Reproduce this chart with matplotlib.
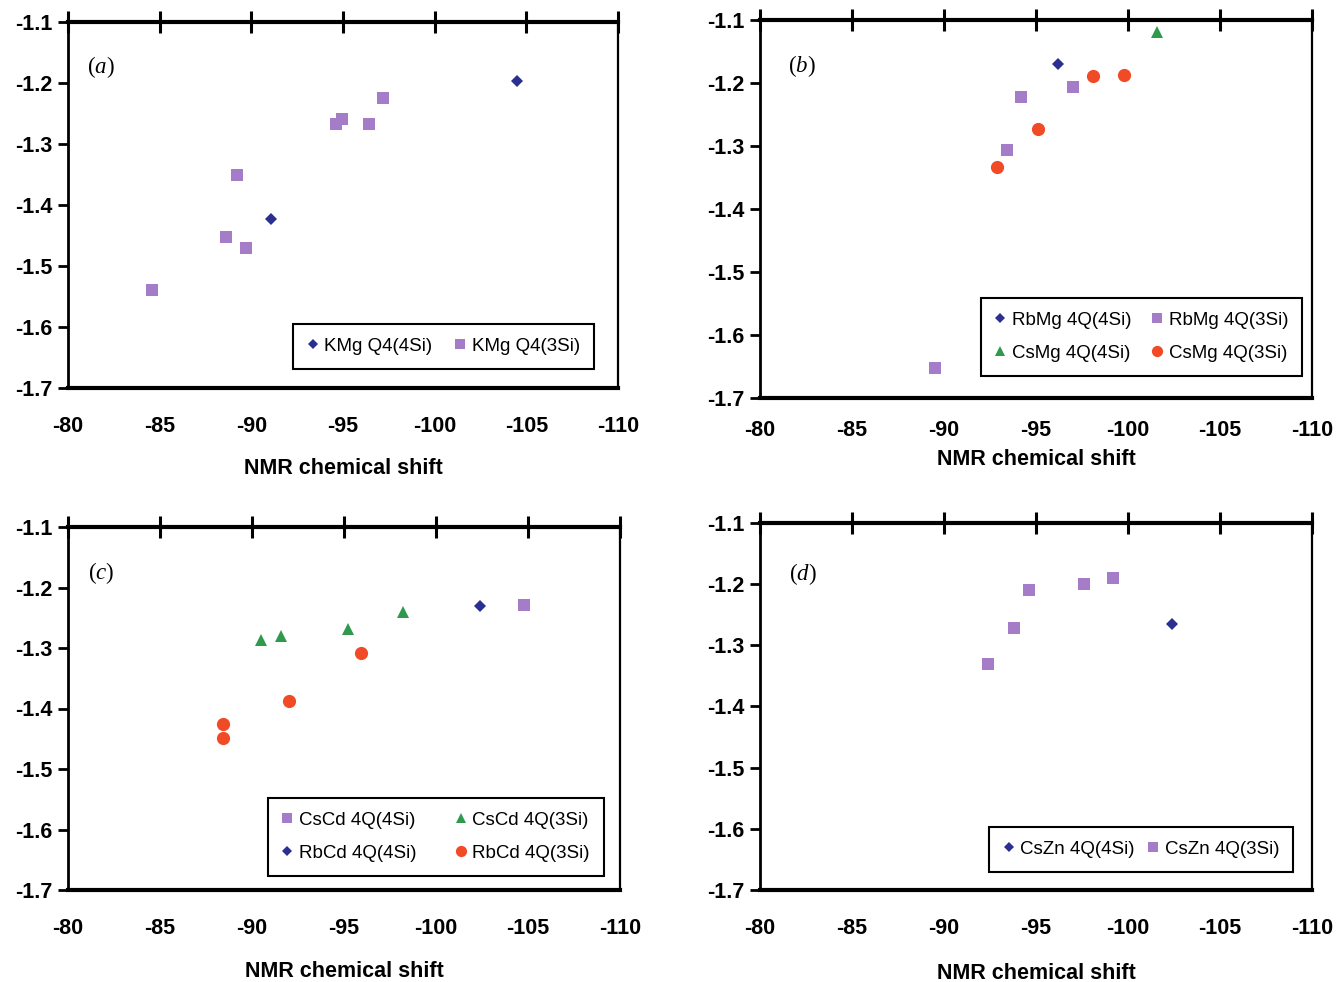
import matplotlib
matplotlib.use("Agg")
import matplotlib.pyplot as plt
from matplotlib.ticker import FormatStrFormatter

plt.rcParams['font.family'] = ['Liberation Sans', 'DejaVu Sans']
plt.rcParams['mathtext.fontset'] = 'custom'
plt.rcParams['mathtext.it'] = 'Liberation Serif:italic'
plt.rcParams['mathtext.rm'] = 'Liberation Serif'

# ---------------- data ----------------
# (a)
a_kmg4_x = [-104.5, -91.1]
a_kmg4_y = [-1.197, -1.423]
a_kmg3_x = [-84.6, -88.6, -89.7, -89.2, -94.6, -94.95, -96.4, -97.2]
a_kmg3_y = [-1.539, -1.452, -1.470, -1.350, -1.268, -1.259, -1.267, -1.224]

# (b)
b_rbmg4_x = [-96.2]
b_rbmg4_y = [-1.170]
b_rbmg3_x = [-89.5, -93.4, -94.2, -97.0]
b_rbmg3_y = [-1.652, -1.306, -1.223, -1.206]
b_csmg4_x = [-101.6]
b_csmg4_y = [-1.119]
b_csmg3_x = [-92.9, -95.1, -98.1, -99.8]
b_csmg3_y = [-1.333, -1.273, -1.189, -1.187]

# (c)
c_cscd4_x = [-104.8]
c_cscd4_y = [-1.229]
c_cscd3_x = [-90.5, -91.6, -95.2, -98.2]
c_cscd3_y = [-1.287, -1.280, -1.268, -1.241]
c_rbcd4_x = [-102.4]
c_rbcd4_y = [-1.230]
c_rbcd3_x = [-88.4, -88.4, -92.0, -95.9]
c_rbcd3_y = [-1.426, -1.448, -1.388, -1.308]

# (d)
d_cszn4_x = [-102.4]
d_cszn4_y = [-1.265]
d_cszn3_x = [-92.4, -93.8, -94.6, -97.6, -99.2]
d_cszn3_y = [-1.330, -1.272, -1.209, -1.200, -1.190]

x_ticks = [-80, -85, -90, -95, -100, -105, -110]
y_ticks = [-1.7, -1.6, -1.5, -1.4, -1.3, -1.2, -1.1]
xlabel_text = "NMR chemical shift"

# ---------------- styles ----------------
STY = {
    'D': dict(marker='D', color='#2b2f8f', ms=6.5),
    's': dict(marker='s', color='#a47cc8', ms=8),
    '^': dict(marker='^', color='#2f9a4e', ms=9),
    'o': dict(marker='o', color='#f04a26', ms=9.5),
}

W, H = 1340, 982
fig = plt.figure(figsize=(W / 100, H / 100), dpi=100)


def make_ax(left, top, right, bottom):
    return fig.add_axes([left / W, 1 - bottom / H, (right - left) / W, (bottom - top) / H])


def style_ax(ax, label, lx, ly, tickpad, xlabelpad):
    ax.set_xlim(-80, -110)
    ax.set_ylim(-1.7, -1.1)
    ax.set_xticks(x_ticks)
    ax.set_yticks(y_ticks)
    ax.yaxis.set_major_formatter(FormatStrFormatter('%.1f'))
    ax.xaxis.set_major_formatter(FormatStrFormatter('%d'))
    ax.spines['top'].set_linewidth(3)
    ax.spines['bottom'].set_linewidth(3)
    ax.spines['left'].set_linewidth(2)
    ax.spines['right'].set_linewidth(1.6)
    ax.tick_params(axis='x', top=True, bottom=False, labeltop=False, labelbottom=True,
                   direction='inout', length=16, width=2.2, pad=tickpad, labelsize=15.5)
    ax.tick_params(axis='y', left=True, right=False, direction='out', length=7,
                   width=2, pad=4, labelsize=15.5)
    for t in ax.get_xticklabels() + ax.get_yticklabels():
        t.set_fontweight('bold')
    ax.set_xlabel(xlabel_text, fontsize=15.5, fontweight='bold', labelpad=xlabelpad)
    ax.text(lx, ly, r"($\mathit{" + label + r"}$)", transform=ax.transAxes,
            fontsize=16.5, family='Liberation Serif', ha='left', va='center')


def scatter(ax, x, y, key, lab):
    st = STY[key]
    (h,) = ax.plot(x, y, linestyle='none', marker=st['marker'], color=st['color'],
                   markersize=st['ms'], markeredgewidth=0, label=lab)
    return h


def legend(ax, handles, anchor, colsp):
    lg = ax.legend(handles=handles, ncol=2, loc='lower right', bbox_to_anchor=anchor,
                   frameon=True, fancybox=False, edgecolor='black', framealpha=1,
                   fontsize=13.5, handlelength=0.6, handletextpad=0.3,
                   columnspacing=colsp, markerscale=0.85, borderpad=0.75,
                   labelspacing=0.85, borderaxespad=0)
    lg.get_frame().set_linewidth(1.5)
    return lg


# (a)
ax = make_ax(68, 22, 618, 388)
h1 = scatter(ax, a_kmg4_x, a_kmg4_y, 'D', 'KMg Q4(4Si)')
h2 = scatter(ax, a_kmg3_x, a_kmg3_y, 's', 'KMg Q4(3Si)')
style_ax(ax, 'a', 0.035, 0.877, 12, 15)
legend(ax, [h1, h2], (0.956, 0.052), 1.2)

# (b)
ax = make_ax(760, 20, 1312, 398)
h1 = scatter(ax, b_rbmg4_x, b_rbmg4_y, 'D', 'RbMg 4Q(4Si)')
h2 = scatter(ax, b_rbmg3_x, b_rbmg3_y, 's', 'RbMg 4Q(3Si)')
h3 = scatter(ax, b_csmg4_x, b_csmg4_y, '^', 'CsMg 4Q(4Si)')
h4 = scatter(ax, b_csmg3_x, b_csmg3_y, 'o', 'CsMg 4Q(3Si)')
style_ax(ax, 'b', 0.050, 0.878, 8, 5.5)
legend(ax, [h1, h3, h2, h4], (0.982, 0.058), 1.1)

# (c)
ax = make_ax(68, 527, 620, 890)
h1 = scatter(ax, c_cscd4_x, c_cscd4_y, 's', 'CsCd 4Q(4Si)')
h2 = scatter(ax, c_cscd3_x, c_cscd3_y, '^', 'CsCd 4Q(3Si)')
h3 = scatter(ax, c_rbcd4_x, c_rbcd4_y, 'D', 'RbCd 4Q(4Si)')
h4 = scatter(ax, c_rbcd3_x, c_rbcd3_y, 'o', 'RbCd 4Q(3Si)')
style_ax(ax, 'c', 0.037, 0.873, 12.5, 15.5)
legend(ax, [h1, h3, h2, h4], (0.971, 0.039), 2.1)

# (d)
ax = make_ax(760, 523, 1312, 890)
h1 = scatter(ax, d_cszn4_x, d_cszn4_y, 'D', 'CsZn 4Q(4Si)')
h2 = scatter(ax, d_cszn3_x, d_cszn3_y, 's', 'CsZn 4Q(3Si)')
style_ax(ax, 'd', 0.052, 0.861, 12.5, 17)
legend(ax, [h1, h2], (0.966, 0.049), 0.7)

fig.savefig("out.png", dpi=100)
